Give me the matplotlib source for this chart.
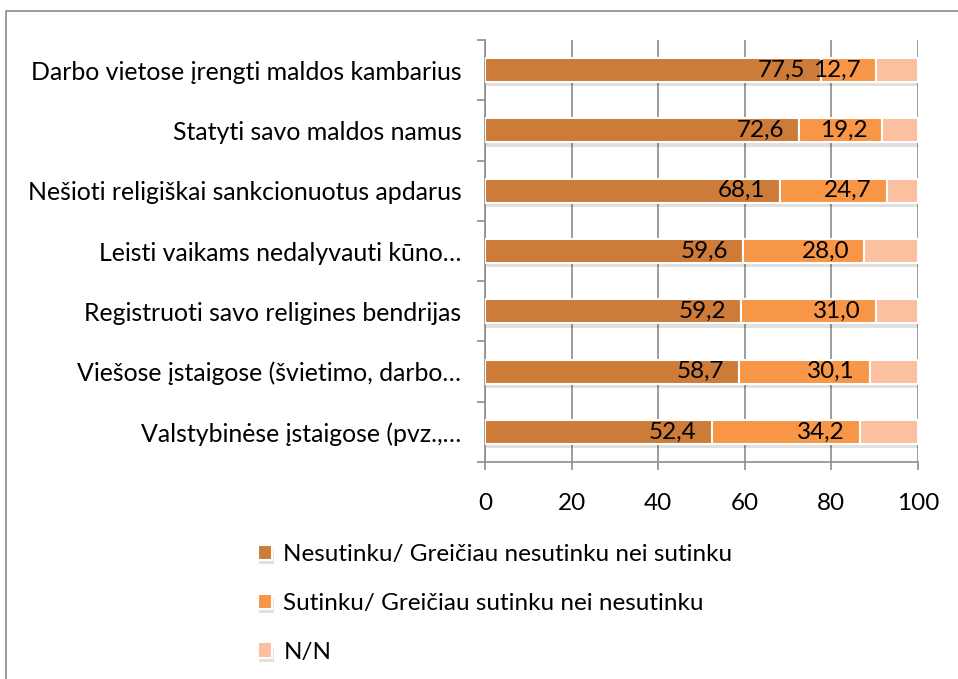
import matplotlib.pyplot as plt
import matplotlib.patheffects as pe
from matplotlib.patches import Rectangle

plt.rcParams['font.family'] = ['Lato', 'DejaVu Sans']

categories = [
    'Darbo vietose įrengti maldos kambarius',
    'Statyti savo maldos namus',
    'Nešioti religiškai sankcionuotus apdarus',
    'Leisti vaikams nedalyvauti kūno…',
    'Registruoti savo religines bendrijas',
    'Viešose įstaigose (švietimo, darbo…',
    'Valstybinėse įstaigose (pvz.,…',
]
disagree = [77.5, 72.6, 68.1, 59.6, 59.2, 58.7, 52.4]
agree = [12.7, 19.2, 24.7, 28.0, 31.0, 30.1, 34.2]
nn = [9.8, 8.2, 7.2, 12.4, 9.8, 11.2, 13.4]
series_names = ['Nesutinku/ Greičiau nesutinku nei sutinku',
                'Sutinku/ Greičiau sutinku nei nesutinku',
                'N/N']
colors = ['#CD7B39', '#F79646', '#FAC09F']
xticks = [0, 20, 40, 60, 80, 100]

W, H = 958, 679
FS = 17.5
fig = plt.figure(figsize=(W / 100, H / 100), dpi=100)

# outer frame (only top/left visible in the reference)
fig.patches.append(Rectangle((6 / W, -0.1), 1.2, 1 - 11 / H + 0.1, transform=fig.transFigure,
                             fill=False, edgecolor='#8C8C8C', linewidth=1.2))

ax = fig.add_axes([485 / W, 1 - 462 / H, (918 - 485) / W, (462 - 40) / H])
ypos = list(range(len(categories)))

shadow = [pe.SimplePatchShadow(offset=(1, -3), shadow_rgbFace='#000000', alpha=0.12), pe.Normal()]
left = [0] * len(categories)
handles = []
for vals, col, name in zip([disagree, agree, nn], colors, series_names):
    bars = ax.barh(ypos, vals, left=left, height=0.4, color=col, edgecolor='white',
                   linewidth=1.5, label=name, zorder=3)
    for b in bars:
        b.set_path_effects(shadow)
    handles.append(bars)
    left = [l + v for l, v in zip(left, vals)]

# value labels inside end of first two segments
for i in ypos:
    ax.annotate(f'{disagree[i]:.1f}'.replace('.', ','), (disagree[i], i), xytext=(-15, 0),
                textcoords='offset pixels', ha='right', va='center', fontsize=FS, zorder=5)
    end = disagree[i] + agree[i]
    ax.annotate(f'{agree[i]:.1f}'.replace('.', ','), (end, i), xytext=(-15, 0),
                textcoords='offset pixels', ha='right', va='center', fontsize=FS, zorder=5)

ax.set_xlim(0, 100)
ax.set_ylim(len(categories) - 0.5, -0.5)
ax.set_xticks(xticks)
ax.set_xticklabels([str(t) for t in xticks], fontsize=FS)
ax.set_yticks(ypos)
ax.set_yticklabels(categories, fontsize=17.9)
ax.tick_params(axis='y', which='major', length=0, pad=17)
ax.set_yticks([y - 0.5 for y in range(len(categories) + 1)], minor=True)
ax.tick_params(axis='y', which='minor', length=6, width=1.2, color='#8C8C8C', direction='out')
ax.tick_params(axis='x', length=6, width=1.2, color='#8C8C8C', direction='out', pad=16)
ax.grid(axis='x', color='#8C8C8C', linewidth=1.2, zorder=0)
ax.set_axisbelow(True)
for s in ['top', 'right']:
    ax.spines[s].set_visible(False)
for s in ['left', 'bottom']:
    ax.spines[s].set_color('#8C8C8C')
    ax.spines[s].set_linewidth(1.2)

fig.legend(handles=handles, labels=series_names, loc='upper left',
           bbox_to_anchor=(236 / W, 1 - 522 / H), frameon=False, fontsize=FS,
           handlelength=0.6, handleheight=0.6, handletextpad=0.45, labelspacing=1.15)

fig.savefig('out.png', dpi=100)
